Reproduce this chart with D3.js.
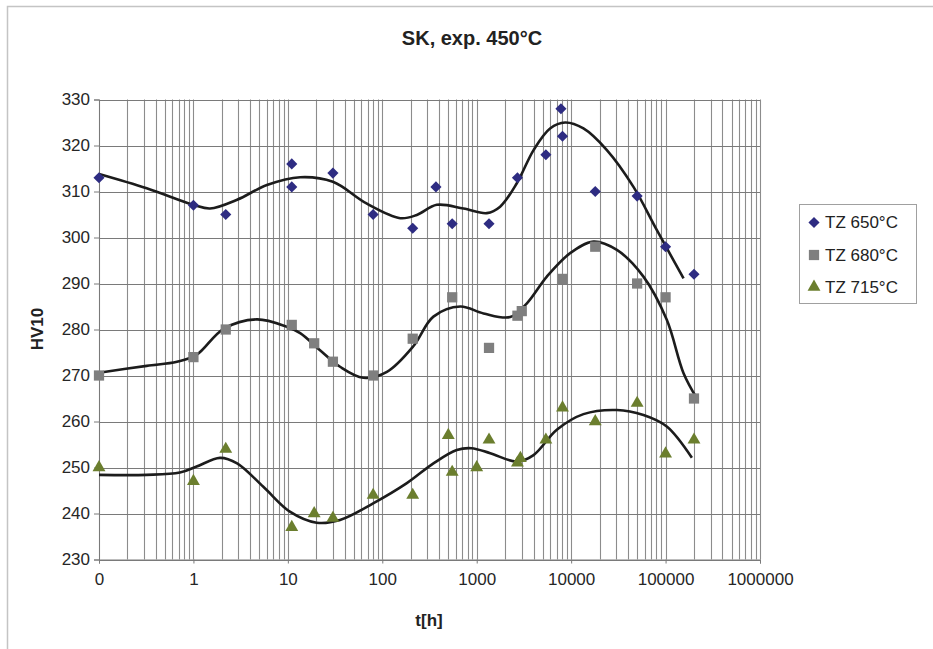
<!DOCTYPE html>
<html>
<head>
<meta charset="utf-8">
<script src="https://cdn.jsdelivr.net/npm/d3@7"></script>
<style>
  html, body { margin: 0; padding: 0; background: #fff; }
  svg { display: block; font-family: "Liberation Sans", Arial, sans-serif; }
</style>
</head>
<body>
<svg id="chart" width="933" height="649"></svg>
<script>
// Hardness HV10 against exposure time at 450 °C, three tempering temperatures
const times650 = [0.1, 1, 2.2, 11, 11, 30, 80, 210, 370, 550, 1350, 2700, 5400, 7800, 8100, 18000, 50000, 100000, 200000];
const hv650    = [313, 307, 305, 316, 311, 314, 305, 302, 311, 303, 303, 313, 318, 328, 322, 310, 309, 298, 292];

const times680 = [0.1, 1, 2.2, 11, 19, 30, 80, 210, 550, 1350, 2700, 3000, 8100, 18000, 50000, 100000, 200000];
const hv680    = [270, 274, 280, 281, 277, 273, 270, 278, 287, 276, 283, 284, 291, 298, 290, 287, 265];

const times715 = [0.1, 1, 2.2, 11, 19, 30, 80, 210, 500, 550, 1000, 1350, 2700, 2900, 5400, 8100, 18000, 50000, 100000, 200000];
const hv715    = [250, 247, 254, 237, 240, 239, 244, 244, 257, 249, 250, 256, 251, 252, 256, 263, 260, 264, 253, 256];

// Smoothed trend curves
const trend650T = [0.1, 0.32, 1, 1.5, 2.9, 6, 13.5, 30, 68, 155, 232, 378, 725, 1280, 1770, 2660, 4000, 5980, 8630, 13500, 23900, 45700, 80900, 155000];
const trend650V = [313.8, 310.7, 307.1, 306.3, 308.2, 311.4, 313.1, 312.1, 307.4, 304.2, 304.9, 307.1, 306.3, 305.3, 306.7, 311.8, 319, 323.7, 325, 323.7, 319, 311, 301.6, 291.1];

const trend680T = [0.1, 0.32, 0.67, 1.08, 2.07, 4.7, 9.7, 13.5, 21.9, 35.7, 63, 112, 212, 348, 670, 1180, 2260, 3400, 5530, 9760, 17200, 30500, 58300, 103000, 155000, 215000];
const trend680V = [270.6, 272.1, 273, 274.5, 280.1, 282.2, 280.6, 279.2, 275.5, 271.9, 269.5, 270.8, 276.3, 282.8, 285, 283.5, 282.7, 285.7, 291.5, 296.6, 299.1, 297.3, 291.5, 282.1, 270.5, 265];

const trend715T = [0.1, 0.32, 0.72, 1.08, 1.91, 2.9, 5.5, 10.5, 20.2, 35.7, 80, 182, 348, 615, 880, 1390, 2660, 4000, 7050, 13500, 30500, 58300, 103000, 190000];
const trend715V = [248.4, 248.4, 248.9, 250.2, 252.1, 250.9, 245.8, 240.4, 238, 238.6, 242.2, 246.6, 250.9, 253.8, 254.2, 253.1, 251.3, 252.7, 258.2, 261.6, 262.5, 261.4, 258.9, 252.1];

const seriesNames = ["TZ 650°C", "TZ 680°C", "TZ 715°C"];
const xTickValues = [0.1, 1, 10, 100, 1000, 10000, 100000, 1000000];
const xTickLabels = ["0", "1", "10", "100", "1000", "10000", "100000", "1000000"];
const yTickValues = [230, 240, 250, 260, 270, 280, 290, 300, 310, 320, 330];

const svg = d3.select("#chart");

// outer frame (only left/top edges fall inside the view)
svg.append("rect")
  .attr("x", 7.5).attr("y", 6.5).attr("width", 1000).attr("height", 1000)
  .attr("fill", "none").attr("stroke", "#c4c4c4").attr("stroke-width", 1.5);

const x = d3.scaleLog().domain([0.1, 1e6]).range([99, 760]);
const y = d3.scaleLinear().domain([230, 330]).range([559.5, 99.5]);

// grid
const minor = [];
for (let e = -1; e < 6; e++) for (let k = 1; k < 10; k++) minor.push(k * Math.pow(10, e));
minor.push(1e6);

const grid = svg.append("g");
grid.selectAll("line.v").data(minor).join("line")
  .attr("x1", d => Math.round(x(d)) + 0.5).attr("x2", d => Math.round(x(d)) + 0.5)
  .attr("y1", y(330)).attr("y2", y(230))
  .attr("stroke", "#8c8c8c").attr("stroke-width", 1.1);
grid.selectAll("line.h").data(yTickValues).join("line")
  .attr("x1", x(0.1)).attr("x2", x(1e6))
  .attr("y1", d => Math.round(y(d)) + 0.5).attr("y2", d => Math.round(y(d)) + 0.5)
  .attr("stroke", "#7a7a7a").attr("stroke-width", 1.1);

// axes
const yAxis = d3.axisLeft(y).tickValues(yTickValues).tickSize(5).tickPadding(4).tickFormat(d3.format("d"));
const gy = svg.append("g").attr("transform", `translate(${x(0.1)},0)`).call(yAxis);
const xAxis = d3.axisBottom(x).tickValues(xTickValues).tickSize(4).tickPadding(9)
  .tickFormat((d, i) => xTickLabels[i]);
const gx = svg.append("g").attr("transform", `translate(0,${y(230)})`).call(xAxis);
[gx, gy].forEach(g => {
  g.select(".domain").attr("stroke", "#7a7a7a");
  g.selectAll(".tick line").attr("stroke", "#7a7a7a");
  g.selectAll(".tick text").attr("fill", "#262626")
    .style("font-size", "17px").style("font-family", "'Liberation Sans', Arial, sans-serif");
});

// trend curves
const line = d3.line().x(d => x(d[0])).y(d => y(d[1])).curve(d3.curveCatmullRom.alpha(0.5));
[[trend650T, trend650V], [trend680T, trend680V], [trend715T, trend715V]].forEach(([t, v]) => {
  svg.append("path")
    .datum(t.map((ti, i) => [ti, v[i]]))
    .attr("d", line)
    .attr("fill", "none").attr("stroke", "#1c1c1c").attr("stroke-width", 2.6)
    .attr("stroke-linejoin", "round").attr("stroke-linecap", "butt");
});

// markers
const colors = ["#2e2c82", "#7f7f7f", "#6b7e2e"];
const shapes = [
  { type: d3.symbolSquare, size: 62, rotate: 45 },
  { type: d3.symbolSquare, size: 105, rotate: 0 },
  { type: d3.symbolTriangle, size: 72, rotate: 0 }
];
const series = [[times650, hv650], [times680, hv680], [times715, hv715]];
series.forEach(([t, v], si) => {
  const sym = d3.symbol().type(shapes[si].type).size(shapes[si].size);
  svg.append("g").selectAll("path").data(t.map((ti, i) => [ti, v[i]])).join("path")
    .attr("d", sym)
    .attr("transform", d => `translate(${x(d[0])},${y(d[1])}) rotate(${shapes[si].rotate})`)
    .attr("fill", colors[si]);
});

// title and axis titles
svg.append("text").attr("x", 472).attr("y", 45).attr("text-anchor", "middle")
  .attr("font-weight", "bold").attr("font-size", 20).attr("fill", "#222")
  .text("SK, exp. 450°C");
svg.append("text").attr("transform", `translate(43,329) rotate(-90)`).attr("text-anchor", "middle")
  .attr("font-weight", "bold").attr("font-size", 17).attr("fill", "#222")
  .text("HV10");
svg.append("text").attr("x", 429).attr("y", 626).attr("text-anchor", "middle")
  .attr("font-weight", "bold").attr("font-size", 17).attr("fill", "#222")
  .text("t[h]");

// legend
const lg = svg.append("g");
lg.append("rect").attr("x", 799.5).attr("y", 204.5).attr("width", 117).attr("height", 99)
  .attr("fill", "#fff").attr("stroke", "#a0a0a0").attr("stroke-width", 1);
const rowsY = [222.5, 255, 287];
seriesNames.forEach((name, si) => {
  const sym = d3.symbol().type(shapes[si].type).size(shapes[si].size);
  lg.append("path").attr("d", sym)
    .attr("transform", `translate(814,${rowsY[si]}) rotate(${shapes[si].rotate})`)
    .attr("fill", colors[si]);
  lg.append("text").attr("x", 825).attr("y", rowsY[si]).attr("dy", "0.35em")
    .attr("font-size", 17).attr("fill", "#222").text(name);
});
</script>
</body>
</html>
